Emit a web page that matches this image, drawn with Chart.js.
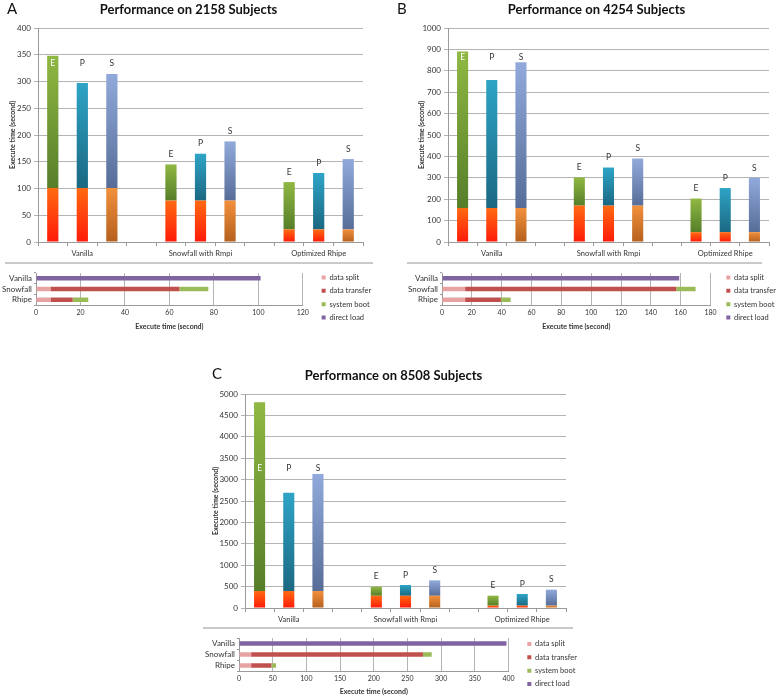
<!DOCTYPE html>
<html lang="en">
<head>
<meta charset="UTF-8">
<title>Performance on 2158 / 4254 / 8508 Subjects</title>
<script src="https://cdn.jsdelivr.net/npm/chart.js"></script>
<style>
  body { margin: 0; background: #fff; overflow: hidden; }
  .box { position: absolute; }
  .rule { position: absolute; height: 0; border-top: 2px solid #c9c9c9; }
</style>
</head>
<body>
<div class="box" style="left:0;top:0;width:380px;height:262px"><canvas id="mainA"></canvas></div>
<div class="box" style="left:390px;top:0;width:388px;height:262px"><canvas id="mainB"></canvas></div>
<div class="box" style="left:170px;top:360px;width:420px;height:268px"><canvas id="mainC"></canvas></div>
<div class="rule" style="left:5px;top:262px;width:368px"></div>
<div class="rule" style="left:407px;top:262px;width:355px"></div>
<div class="rule" style="left:203px;top:627px;width:370px"></div>
<div class="box" style="left:0;top:258px;width:379px;height:79px"><canvas id="smallA"></canvas></div>
<div class="box" style="left:390px;top:258px;width:396px;height:79px"><canvas id="smallB"></canvas></div>
<div class="box" style="left:170px;top:630px;width:424px;height:68px"><canvas id="smallC"></canvas></div>
<script>
// ---- data ------------------------------------------------------------
// 11 slots on the x axis: E P S (gap) E P S (gap) E P S
const slotLabels = ['', 'Vanilla', '', '', '', 'Snowfall with Rmpi', '', '', '', 'Optimized Rhipe', ''];
const versions = ['E', 'P', 'S'];
const methods = ['Vanilla', 'Snowfall', 'Rhipe'];
const partNames = ['data split', 'data transfer', 'system boot', 'direct load'];

// A - 2158 subjects
const totalA = [348, 297, 314, 145, 165, 188, 112, 129, 155];
const splitA = [0, 6.5, 6.5];
const transferA = [0, 58, 10];
const bootA = [0, 13, 7];
const directA = [101, 0, 0];

// B - 4254 subjects
const totalB = [890, 757, 840, 302, 348, 390, 203, 252, 300];
const splitB = [0, 15.5, 15.5];
const transferB = [0, 141.5, 24];
const bootB = [0, 13, 6.5];
const directB = [159, 0, 0];

// C - 8508 subjects
const totalC = [4810, 2695, 3130, 498, 537, 646, 288, 327, 428];
const splitC = [0, 18, 18];
const transferC = [0, 255, 30];
const bootC = [0, 13, 7];
const directC = [397, 0, 0];

// ---- look ------------------------------------------------------------
const family = 'Lato, "Liberation Sans", sans-serif';
Chart.defaults.font.family = family;
Chart.defaults.color = '#333';

// [bottom, top] gradient stops for E, P, S
const loadColors = [['#ff1a08', '#ff6a12'], ['#ff1a08', '#ff6a12'], ['#b5601e', '#f2903c']];
const runColors = [['#567e2a', '#8fb843'], ['#1b6882', '#2ea4c6'], ['#576d98', '#91aadb']];

function slotData(fn) {
  const out = [];
  for (let s = 0; s < 11; s++) {
    const g = Math.floor(s / 4), v = s % 4;
    out.push(v === 3 ? null : fn(g, v));
  }
  return out;
}

const panelText = {
  id: 'panelText',
  afterDatasetsDraw(chart, args, o) {
    const ctx = chart.ctx, area = chart.chartArea, y = chart.scales.y;
    const bars = chart.getDatasetMeta(1).data;
    ctx.save();
    ctx.textAlign = 'center';
    ctx.textBaseline = 'middle';
    ctx.font = '8.5px ' + family;
    bars.forEach((bar, s) => {
      const v = s % 4;
      if (v === 3) return;
      const ly = s < 4 ? y.getPixelForValue(o.labelLine) : bar.y - 10;
      ctx.fillStyle = ly > bar.y + 4 ? '#ffffff' : '#333333';
      ctx.fillText(versions[v], bar.x, ly);
    });
    ctx.fillStyle = '#111';
    ctx.font = 'bold 13px ' + family;
    ctx.fillText(o.title, (area.left + area.right) / 2 - 12, o.titleY);
    ctx.textAlign = 'left';
    ctx.font = '15px ' + family;
    ctx.fillText(o.letter, o.letterX, o.letterY);
    ctx.restore();
  }
};

function drawMain(p) {
  const load = methods.map((m, g) => p.split[g] + p.transfer[g] + p.boot[g] + p.direct[g]);
  const bottom = slotData(g => load[g]);
  const upper = slotData((g, v) => p.total[g * 3 + v] - load[g]);
  const fill = (pal, isTop) => c => {
    const s = c.dataIndex, v = s % 4, chart = c.chart;
    if (!chart.chartArea || v === 3) return pal[0][1];
    const y = chart.scales.y;
    const lo = isTop ? bottom[s] : 0;
    const hi = lo + (isTop ? upper[s] : bottom[s]);
    const g = chart.ctx.createLinearGradient(0, y.getPixelForValue(lo), 0, y.getPixelForValue(hi));
    g.addColorStop(0, pal[v][0]);
    g.addColorStop(1, pal[v][1]);
    return g;
  };

  new Chart(document.getElementById(p.id), {
    type: 'bar',
    data: {
      labels: slotLabels,
      datasets: [
        { label: 'load', data: bottom, backgroundColor: fill(loadColors, false) },
        { label: 'run', data: upper, backgroundColor: fill(runColors, true) }
      ]
    },
    options: {
      responsive: true,
      maintainAspectRatio: false,
      animation: false,
      layout: { padding: p.pad },
      datasets: { bar: { barPercentage: 0.38, categoryPercentage: 1 } },
      plugins: {
        legend: { display: false },
        tooltip: { enabled: false },
        panelText: { title: p.title, titleY: p.titleY, letter: p.letter, letterX: p.letterX, letterY: p.letterY, labelLine: p.labelLine }
      },
      scales: {
        x: {
          stacked: true,
          grid: { offset: true, drawOnChartArea: false, tickLength: 4, color: '#9a9a9a' },
          border: { color: '#9a9a9a' },
          ticks: { autoSkip: false, maxRotation: 0, padding: 3, font: { size: 7.5 } },
          afterFit: s => { s.height = 20; }
        },
        y: {
          stacked: true,
          min: 0,
          max: p.yMax,
          ticks: { stepSize: p.yStep, padding: 3, font: { size: 8 }, callback: v => String(v) },
          grid: { color: '#b4b4b4', tickLength: 4 },
          border: { color: '#9a9a9a' },
          title: { display: true, text: 'Execute time (second)', font: { size: 7, weight: 'bold' }, padding: 0 },
          afterFit: s => { s.width = p.yWidth; }
        }
      }
    },
    plugins: [panelText]
  });
}

function drawSmall(p) {
  const parts = [p.split, p.transfer, p.boot, p.direct];
  const colors = ['#e6a3a2', '#c0504d', '#9bbb59', '#8064a2'];
  new Chart(document.getElementById(p.id), {
    type: 'bar',
    data: {
      labels: methods,
      datasets: parts.map((d, i) => ({ label: partNames[i], data: d, backgroundColor: colors[i], xAxisID: 'x', yAxisID: 'y' }))
    },
    options: {
      indexAxis: 'y',
      responsive: true,
      maintainAspectRatio: false,
      animation: false,
      layout: { padding: p.pad },
      datasets: { bar: { barPercentage: 0.42, categoryPercentage: 1 } },
      plugins: {
        tooltip: { enabled: false },
        legend: {
          position: 'right',
          labels: { boxWidth: 4, boxHeight: 4, padding: 5.8, color: '#333', font: { size: 7.5 } }
        }
      },
      scales: {
        x: {
          stacked: true,
          min: 0,
          max: p.xMax,
          ticks: { stepSize: p.xStep, padding: 4, font: { size: 7 } },
          grid: { color: '#b4b4b4', drawTicks: false },
          border: { color: '#9a9a9a' },
          title: { display: true, text: 'Execute time (second)', font: { size: 7, weight: 'bold' }, padding: { top: 0, bottom: p.titleShift } },
          afterFit: s => { s.height = p.xHeight; }
        },
        y: {
          stacked: true,
          grid: { offset: true, drawOnChartArea: false, tickLength: 2, color: '#9a9a9a' },
          border: { color: '#9a9a9a' },
          ticks: { autoSkip: false, padding: 2, font: { size: 8 } },
          afterFit: s => { s.width = p.yWidth; }
        },
        // empty axes that keep some room around the plot without moving the legend
        gap: {
          type: 'linear',
          position: 'right',
          grid: { display: false },
          ticks: { display: false },
          border: { display: false },
          afterFit: s => { s.width = p.sideRoom; }
        },
        topGap: {
          type: 'linear',
          position: 'top',
          grid: { display: false },
          ticks: { display: false },
          border: { display: false },
          afterFit: s => { s.height = p.topRoom; }
        }
      }
    }
  });
}

drawMain({ id: 'mainA', title: 'Performance on 2158 Subjects', letter: 'A', titleY: 10, letterX: 7, letterY: 9,
  total: totalA, split: splitA, transfer: transferA, boot: bootA, direct: directA,
  yMax: 400, yStep: 50, labelLine: 334, yWidth: 29, pad: { left: 9, top: 28, right: 17, bottom: 0 } });
drawMain({ id: 'mainB', title: 'Performance on 4254 Subjects', letter: 'B', titleY: 10, letterX: 7, letterY: 9,
  total: totalB, split: splitB, transfer: transferB, boot: bootB, direct: directB,
  yMax: 1000, yStep: 100, labelLine: 864, yWidth: 30, pad: { left: 28, top: 28, right: 9, bottom: 0 } });
drawMain({ id: 'mainC', title: 'Performance on 8508 Subjects', letter: 'C', titleY: 16, letterX: 42, letterY: 14,
  total: totalC, split: splitC, transfer: transferC, boot: bootC, direct: directC,
  yMax: 5000, yStep: 500, labelLine: 3271, yWidth: 33, pad: { left: 42, top: 34, right: 24, bottom: 0 } });

drawSmall({ id: 'smallA', split: splitA, transfer: transferA, boot: bootA, direct: directA,
  xMax: 120, xStep: 20, yWidth: 36, xHeight: 32, topRoom: 15, sideRoom: 13, titleShift: 6, pad: { left: 0, top: 0, right: 0, bottom: 0 } });
drawSmall({ id: 'smallB', split: splitB, transfer: transferB, boot: bootB, direct: directB,
  xMax: 180, xStep: 20, yWidth: 52, xHeight: 32, topRoom: 15, sideRoom: 10, titleShift: 6, pad: { left: 0, top: 0, right: 0, bottom: 0 } });
drawSmall({ id: 'smallC', split: splitC, transfer: transferC, boot: bootC, direct: directC,
  xMax: 400, xStep: 50, yWidth: 69, xHeight: 27, topRoom: 8, sideRoom: 13, titleShift: 2, pad: { left: 0, top: 0, right: 7, bottom: 0 } });
</script>
</body>
</html>
